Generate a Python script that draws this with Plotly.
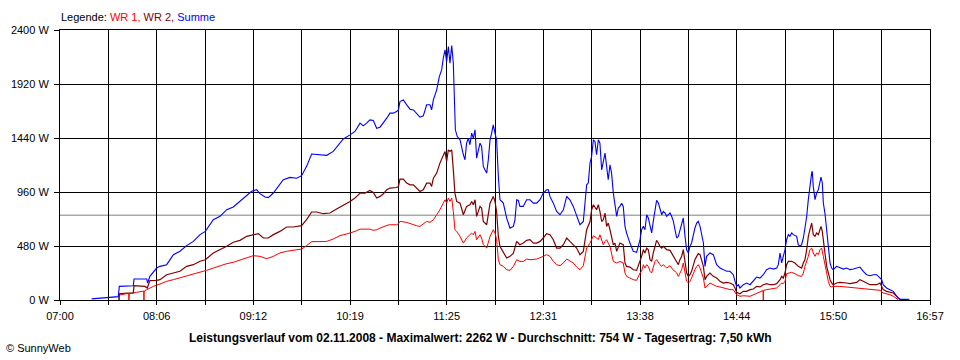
import pandas as pd
import plotly.graph_objects as go

# ---------------- data (minutes after 07:00, power in W) ----------------
t_summe = [21.7, 33.2, 40.0, 40.7, 45.7, 50.3, 50.8, 56.0, 59.5, 60.1, 61.7, 66.3, 68.6, 73.2, 77.8, 82.3, 86.9, 91.5, 96.1, 99.7,
           105.2, 109.8, 114.4, 118.9, 123.5, 128.1, 131.5, 134.9, 137.2, 140.7, 142.9, 146.4, 149.8, 153.2, 157.8, 162.4, 165.8, 169.2, 172.7, 176.1,
           183.0, 187.5, 191.0, 194.4,
           199.0, 202.4, 205.9, 208.1, 210.4, 212.7, 215.0, 217.3, 219.6, 221.9, 224.2, 226.4, 228.7, 231.0, 232.2, 233.3, 235.6, 237.9, 240.2, 242.5,
           244.7, 247.0, 249.3, 251.6, 253.9, 255.0, 256.2, 258.5, 260.3, 261.9, 263.0, 264.2, 265.3, 266.5, 267.6, 268.8, 269.9, 270.6, 271.3, 272.6,
           274.5, 276.8, 277.9, 279.0, 280.2, 281.3, 282.5, 283.6, 284.8, 285.9, 288.2, 289.3, 290.5, 291.6, 292.8, 293.9, 295.1, 296.2, 297.3, 298.5,
           299.6, 300.8, 301.9, 304.2, 306.5, 308.8, 311.1, 312.2, 313.4, 314.5, 315.6, 317.9, 320.2, 322.5, 324.8, 327.1, 329.4, 331.6, 333.9, 335.1,
           336.2, 338.5, 340.8, 343.1, 345.4, 347.7, 349.9, 352.2, 354.5, 356.8, 359.1, 361.4, 362.5, 363.7, 364.8, 366.0, 367.1, 368.2, 369.4, 370.5,
           371.7, 372.8, 374.0, 375.1, 376.2, 377.4, 378.5, 379.7, 380.8, 382.0, 383.1, 384.2, 385.4, 386.5, 387.7, 388.8, 391.1, 393.4, 395.7, 396.8,
           398.0,
           399.1, 400.3, 401.4, 402.6, 403.7, 404.9, 406.0, 407.1, 408.3, 409.4, 410.6, 411.7, 412.9, 414.0, 415.2, 416.3, 417.4, 418.6, 419.7, 420.9,
           422.0, 423.2, 424.3, 425.4, 426.6, 427.7, 428.9, 430.0, 431.2, 432.3, 433.4, 434.6, 435.7, 436.9, 438.0, 439.2, 440.3, 441.5, 442.6, 443.7,
           446.0, 448.3, 450.6, 452.9, 455.2, 457.5, 459.7, 462.0, 463.2, 464.3, 465.5, 466.6, 468.9, 471.2, 473.5, 475.8, 478.0, 480.3, 482.6, 484.9,
           487.2, 489.5, 491.8, 492.9, 494.1, 495.2, 496.3, 497.5, 498.6, 499.8, 500.9, 502.1, 503.2, 505.5, 506.6, 507.8, 508.9, 510.1, 511.2, 512.4,
           513.5, 514.6, 515.8, 516.2, 516.9, 518.1, 519.2, 520.4, 521.5, 522.2, 523.1, 523.8, 524.9, 526.1, 527.2, 528.4, 529.5, 530.6, 532.9, 535.2,
           537.5, 539.8, 542.1, 544.4, 546.7, 548.9, 551.2, 553.5, 555.8, 558.1, 560.4, 562.7, 563.8, 564.9, 567.2, 569.5, 571.8, 574.1, 575.2, 576.4,
           581.0, 582.8]
p_summe = [10, 24, 30, 121, 121, 127, 187, 190, 187, 151, 210, 284, 299, 314, 403, 433, 483, 521, 581, 610,
           714, 744, 803, 827, 877, 927, 966, 981, 945, 916, 910, 951, 1010, 1070, 1090, 1082, 1105, 1188, 1298, 1295,
           1286, 1321, 1381, 1431,
           1468, 1498, 1572, 1548, 1572, 1601, 1595, 1527, 1536, 1572, 1616, 1661, 1661, 1675, 1690, 1764, 1779, 1735, 1696, 1690,
           1661, 1625, 1637, 1735, 1735, 1690, 1779, 1868, 1986, 2045, 2149, 2223, 2119, 2253, 2105, 2262, 2105, 1809, 1513, 1453,
           1424, 1291, 1246, 1394, 1439, 1380, 1483, 1439, 1513, 1261, 1394, 1365, 1187, 1157, 1128, 1246, 1424, 1483, 1557, 1483,
           1424, 1098, 891, 861, 728, 639, 654, 713, 891, 885, 832, 832, 891, 891, 861, 861, 891, 950, 980, 980,
           921, 861, 787, 758, 802, 921, 891, 832, 743, 669, 698, 1024, 1039, 1217, 1276, 1424, 1409, 1291, 1424, 1394,
           1157, 1217, 1305, 1187, 1069, 1202, 1128, 950, 861, 743, 817, 832, 861, 832, 654, 595, 506, 432, 423, 477,
           536,
           625, 655, 625, 758, 729, 640, 596, 699, 788, 886, 862, 803, 758, 788, 773, 744, 758, 773, 744, 699,
           625, 551, 566, 625, 684, 729, 566, 447, 418, 477, 507, 581, 640, 684, 699, 655, 596, 507, 299, 388,
           418, 403, 314, 284, 270, 255, 255, 225, 166, 121, 136, 107, 136, 151, 136, 166, 204, 195, 225, 270,
           284, 275, 284, 314, 418, 329, 388, 447, 536, 581, 566, 596, 581, 566, 492, 477, 492, 551, 640, 744,
           892, 1025, 1129, 1144, 1010, 892, 951, 981, 1070, 1093, 1040, 862, 773, 596, 447, 329, 284, 270, 299, 284,
           275, 284, 270, 275, 284, 293, 255, 225, 216, 225, 225, 195, 181, 136, 107, 92, 77, 33, 15, 9,
           9, 6]

t_wr1 = [40.5, 40.7, 45.7, 47.1, 47.3, 47.6, 52.6, 57.4, 57.6, 57.8, 59.5, 64.0, 68.6, 73.2, 77.8, 82.3, 86.9, 91.5, 96.1, 100.6,
         105.2, 109.8, 114.4, 118.9, 123.5, 128.1, 132.6, 137.2, 141.8, 146.4, 150.9, 155.5, 160.1, 165.8, 169.2, 172.7, 178.4, 183.0, 187.5, 192.1,
         196.7,
         199.0, 202.4, 205.9, 212.7, 215.0, 217.3, 219.6, 221.9, 224.2, 226.4, 231.0, 232.2, 233.3, 237.9, 240.2, 244.7, 247.0, 249.3, 251.6, 253.9,
         256.2, 258.5, 260.7, 263.0, 264.2, 265.3, 266.5, 267.6, 268.8, 269.9, 271.0, 272.2, 274.5, 276.8, 277.9, 279.0, 281.3, 282.5, 283.6, 284.8,
         285.9, 288.2, 289.3, 290.5, 292.8, 293.9, 295.1, 297.3, 298.5, 299.6, 300.8, 301.9, 304.2, 306.5, 308.8, 311.1, 313.4, 315.6, 317.9, 320.2,
         322.5, 327.1, 329.4, 331.6, 333.9, 336.2, 338.5, 340.8, 343.1, 345.4, 347.7, 349.9, 352.2, 354.5, 356.8, 359.1, 361.4, 363.7, 366.0, 368.2,
         369.4, 370.5, 371.7, 372.8, 374.0, 375.1, 376.2, 377.4, 379.7, 382.0, 384.2, 386.5, 387.7, 388.8, 391.1, 393.4, 395.7, 398.0,
         399.1, 400.3, 401.4, 402.6, 403.7, 404.9, 406.0, 407.1, 408.3, 409.4, 410.6, 411.7, 412.9, 414.0, 415.2, 416.3, 418.6, 419.7, 420.9, 422.0,
         423.2, 424.3, 425.4, 426.6, 427.7, 428.9, 430.0, 431.2, 432.3, 433.4, 434.6, 435.7, 436.9, 438.0, 439.2, 440.3, 441.5, 442.6, 443.7, 446.0,
         448.3, 450.6, 452.9, 455.2, 457.5, 459.7, 462.0, 463.2, 464.3, 466.6, 468.9, 473.5, 475.8, 478.0, 480.3, 482.4, 482.6, 482.8, 484.9, 489.5,
         491.8, 494.1, 495.2, 496.3, 497.5, 498.6, 499.8, 502.1, 504.3, 506.6, 508.9, 510.1, 511.2, 512.4, 513.5, 514.6, 515.8, 516.9, 518.1, 519.2,
         520.4, 521.5, 522.6, 523.8, 524.9, 526.1, 527.2, 528.4, 529.5, 530.6, 535.2, 539.8, 544.4, 548.9, 553.5, 558.1, 562.7, 564.9, 567.2, 569.5,
         571.8, 574.1, 575.2]
p_wr1 = [0, 44, 56, 56, 0, 56, 68, 80, 0, 80, 92, 121, 142, 166, 181, 196, 216, 231, 246, 264,
         284, 305, 323, 335, 353, 373, 394, 388, 367, 388, 418, 433, 439, 453, 483, 519, 519, 521, 542, 572,
         587,
         595, 610, 630, 630, 619, 625, 639, 654, 663, 669, 669, 678, 699, 690, 678, 660, 654, 678, 699, 690,
         713, 758, 802, 861, 891, 861, 906, 876, 906, 787, 625, 610, 565, 506, 536, 551, 580, 595, 580, 610,
         536, 580, 551, 491, 462, 506, 565, 625, 595, 536, 358, 314, 299, 269, 263, 299, 358, 343, 343, 364,
         358, 364, 373, 388, 403, 388, 343, 314, 305, 329, 364, 349, 329, 293, 269, 305, 462, 506, 571, 551,
         536, 580, 536, 491, 521, 536, 506, 477, 343, 329, 343, 329, 240, 210, 195, 180, 175, 240,
         255, 314, 284, 314, 299, 255, 240, 299, 344, 359, 329, 314, 299, 314, 299, 284, 305, 284, 264, 255,
         240, 210, 240, 270, 329, 240, 166, 151, 166, 195, 240, 270, 299, 314, 284, 240, 195, 107, 121, 151,
         136, 121, 116, 107, 98, 92, 92, 68, 47, 33, 38, 33, 47, 62, 77, 84, 0, 86, 92, 98,
         107, 136, 151, 145, 166, 234, 240, 246, 234, 216, 210, 240, 299, 344, 388, 447, 462, 418, 388, 418,
         403, 447, 462, 388, 299, 240, 166, 121, 116, 121, 121, 116, 107, 107, 98, 92, 86, 62, 56, 47,
         33, 12, 3]

t_wr2 = [40.5, 40.7, 45.7, 50.3, 50.8, 54.9, 58.3, 59.9, 61.7, 66.3, 68.6, 73.2, 77.8, 82.3, 86.9, 91.5, 96.1, 99.7, 105.2, 109.8,
         114.4, 118.9, 123.5, 128.1, 132.6, 136.1, 139.5, 142.9, 146.4, 150.9, 155.5, 160.1, 165.8, 169.2, 172.7, 176.1, 180.7, 185.2, 189.8, 194.4,
         199.0, 202.4, 205.9, 209.3, 212.7, 215.0, 217.3, 219.6, 221.9, 224.2, 226.4, 231.0, 232.2, 233.3, 235.6, 237.9, 240.2, 242.5, 244.7, 247.0,
         249.3, 251.6, 253.9, 255.0, 256.2, 258.5, 260.7, 263.0, 264.2, 265.3, 266.5, 267.6, 268.8, 269.9, 271.0, 272.2, 274.5, 276.8, 279.0, 281.3,
         282.5, 283.6, 284.8, 285.9, 288.2, 289.3, 290.5, 292.8, 293.9, 295.1, 297.3, 298.5, 299.6, 300.8, 301.9, 304.2, 306.5, 308.8, 311.1, 313.4,
         315.6, 317.9, 320.2, 322.5, 324.8, 327.1, 329.4, 331.6, 333.9, 336.2, 338.5, 340.8, 343.1, 345.4, 347.7, 349.9, 352.2, 354.5, 356.8, 359.1,
         361.4, 363.7, 364.8, 366.0, 368.2, 369.4, 370.5, 371.7, 372.8, 374.0, 375.1, 376.2, 377.4, 379.7, 380.8, 382.0, 384.2, 386.5, 387.7, 388.8,
         391.1, 393.4, 395.7, 398.0,
         399.1, 400.3, 401.4, 402.6, 403.7, 404.9, 406.0, 407.1, 408.3, 409.4, 410.6, 411.7, 412.9, 414.0, 415.2, 416.3, 418.6, 419.7, 420.9, 422.0,
         423.2, 424.3, 425.4, 426.6, 427.7, 428.9, 430.0, 431.2, 432.3, 433.4, 434.6, 435.7, 436.9, 438.0, 439.2, 440.3, 441.5, 442.6, 443.7, 446.0,
         448.3, 450.6, 452.9, 455.2, 457.5, 459.7, 462.0, 463.2, 464.3, 466.6, 468.9, 471.2, 473.5, 475.8, 478.0, 480.3, 482.6, 484.9, 487.2, 489.5,
         491.8, 494.1, 495.2, 496.3, 497.5, 498.6, 499.8, 502.1, 504.3, 506.6, 508.9, 510.1, 511.2, 512.4, 513.5, 514.6, 515.8, 516.9, 518.1, 519.2,
         520.4, 521.5, 522.2, 523.1, 523.8, 524.9, 526.1, 527.2, 528.4, 529.5, 530.6, 532.9, 535.2, 539.8, 542.1, 546.7, 548.9, 551.2, 553.5, 555.8,
         560.4, 562.7, 564.9, 567.2, 571.8, 574.1, 575.2, 576.4, 581.0]
p_wr2 = [0, 55, 62, 62, 127, 127, 121, 107, 172, 175, 181, 225, 240, 255, 299, 314, 344, 358, 418, 447,
         477, 513, 530, 566, 581, 590, 551, 551, 581, 610, 649, 649, 661, 714, 782, 782, 767, 773, 809, 839,
         876, 906, 950, 950, 974, 956, 906, 921, 944, 980, 995, 1000, 1009, 1074, 1074, 1039, 1024, 1024, 995, 965,
         980, 1039, 1039, 1009, 1083, 1128, 1217, 1276, 1320, 1231, 1335, 1320, 1335, 1157, 950, 876, 861, 758, 832, 847,
         876, 847, 891, 743, 832, 817, 698, 669, 758, 861, 921, 876, 787, 565, 477, 423, 373, 388, 417, 521,
         491, 506, 530, 536, 506, 506, 521, 551, 589, 580, 536, 462, 462, 491, 551, 521, 491, 462, 403, 432,
         625, 698, 802, 847, 802, 847, 787, 698, 713, 773, 654, 684, 625, 491, 506, 432, 506, 491, 329, 299,
         293, 269, 263, 343,
         388, 447, 418, 462, 447, 359, 344, 418, 492, 530, 507, 477, 462, 477, 462, 447, 441, 418, 394, 373,
         344, 314, 359, 388, 447, 329, 240, 210, 225, 255, 314, 359, 388, 412, 403, 344, 299, 181, 210, 240,
         210, 195, 166, 151, 157, 151, 136, 107, 68, 56, 77, 77, 92, 98, 121, 116, 136, 145, 136, 136,
         145, 181, 210, 195, 240, 314, 344, 344, 329, 299, 284, 329, 359, 447, 566, 625, 684, 581, 566, 596,
         581, 625, 655, 610, 507, 418, 299, 240, 181, 151, 136, 151, 157, 151, 145, 157, 181, 166, 151, 136,
         136, 151, 92, 77, 62, 33, 12, 6, 3]

day_start = "2008-11-02 07:00"
span_minutes = 597
x_tick_labels = ["07:00", "08:06", "09:12", "10:19", "11:25", "12:31", "13:38", "14:44", "15:50", "16:57"]
y_ticks = [0, 480, 960, 1440, 1920, 2400]
y_tick_labels = ["0 W", "480 W", "960 W", "1440 W", "1920 W", "2400 W"]
average_w = 754
title_text = ("Leistungsverlauf vom 02.11.2008 - Maximalwert: 2262 W - "
              "Durchschnitt: 754 W - Tagesertrag: 7,50 kWh")

# ---------------- figure ----------------
base = pd.Timestamp(day_start)


def to_time(mins):
    return base + pd.to_timedelta(mins, unit="min")


C_WR1, C_WR2, C_SUM = "#FF0000", "#800000", "#0000FF"
FONT = "Liberation Sans, Arial, sans-serif"

fig = go.Figure()
fig.add_trace(go.Scatter(x=to_time(t_wr1), y=p_wr1, mode="lines", name="WR 1",
                         line=dict(color=C_WR1, width=1)))
fig.add_trace(go.Scatter(x=to_time(t_wr2), y=p_wr2, mode="lines", name="WR 2",
                         line=dict(color=C_WR2, width=1.2)))
fig.add_trace(go.Scatter(x=to_time(t_summe), y=p_summe, mode="lines", name="Summe",
                         line=dict(color=C_SUM, width=1.1)))

n_grid = 18
tickvals = [to_time(k * span_minutes / n_grid) for k in range(n_grid + 1)]
ticktext = [x_tick_labels[k // 2] if k % 2 == 0 else "" for k in range(n_grid + 1)]

W, H = 960, 360
L, R, T, B = 60, 30, 30, 60
pw, ph = W - L - R, H - T - B


def px_x(x):
    return (x - L) / pw


def px_y(y):
    return (H - B - y) / ph


fig.update_layout(
    width=W, height=H,
    margin=dict(l=L, r=R, t=T, b=B, pad=0),
    plot_bgcolor="white", paper_bgcolor="white",
    showlegend=False,
    font=dict(family=FONT, size=11, color="black"),
    xaxis=dict(type="date", range=[tickvals[0], tickvals[-1]],
               tickmode="array", tickvals=tickvals, ticktext=ticktext,
               showgrid=True, gridcolor="black", gridwidth=1,
               ticks="outside", ticklen=4, tickcolor="black", tickwidth=1,
               ticklabelstandoff=2,
               showline=True, linecolor="black", linewidth=1, mirror=True,
               zeroline=False, tickfont=dict(size=11), automargin=False),
    yaxis=dict(range=[0, 2400], tickmode="array", tickvals=y_ticks, ticktext=y_tick_labels,
               showgrid=True, gridcolor="black", gridwidth=1,
               ticks="outside", ticklen=5, tickcolor="black", tickwidth=1,
               ticklabelstandoff=3,
               showline=True, linecolor="black", linewidth=1, mirror=True,
               zeroline=False, tickfont=dict(size=11), automargin=False),
)

fig.add_shape(type="line", xref="paper", x0=0, x1=1, yref="y", y0=average_w, y1=average_w,
              line=dict(color="#808080", width=1), layer="between")

legend_html = ("Legende: <span style='color:%s'>WR 1,</span> <span style='color:%s'>WR 2,</span> "
               "<span style='color:%s'>Summe</span>" % (C_WR1, C_WR2, C_SUM))
fig.add_annotation(xref="paper", yref="paper", x=px_x(59), y=px_y(17), xanchor="left", yanchor="middle",
                   text=legend_html, showarrow=False, font=dict(size=11, family=FONT))
fig.add_annotation(xref="paper", yref="paper", x=px_x(480), y=px_y(338), xanchor="center", yanchor="middle",
                   text="<b>" + title_text + "</b>", showarrow=False, font=dict(size=12, family=FONT))
fig.add_annotation(xref="paper", yref="paper", x=px_x(4), y=px_y(348), xanchor="left", yanchor="middle",
                   text="© SunnyWeb", showarrow=False, font=dict(size=11, family=FONT))

fig.write_html("out.html", config={"displayModeBar": False},
               post_script="document.body.style.margin='0';document.body.style.overflow='hidden';")
